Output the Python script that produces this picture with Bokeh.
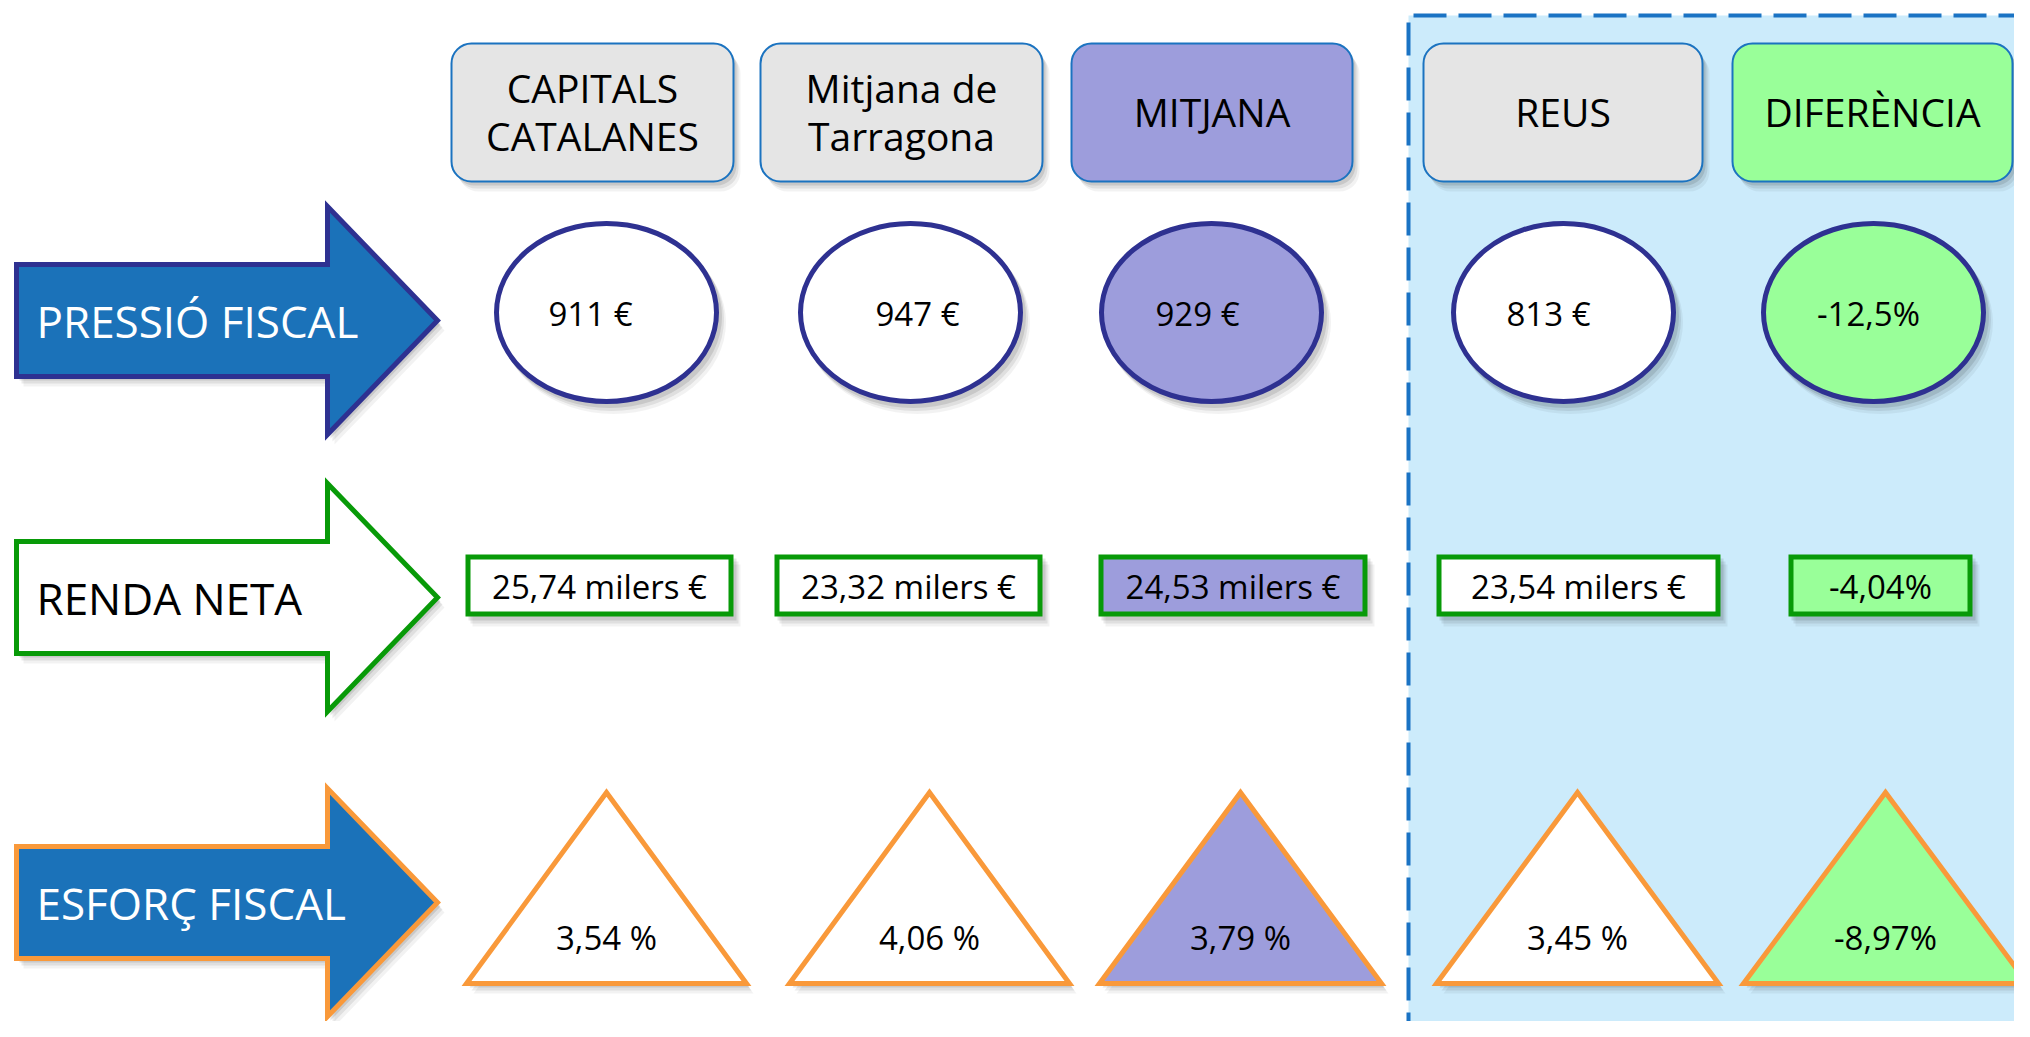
from bokeh.plotting import figure
from bokeh.models import Range1d
from bokeh.core.properties import value
from bokeh.embed import file_html
from bokeh.resources import INLINE

# ---------------- data ----------------
categories = ["CAPITALS\nCATALANES", "Mitjana de\nTarragona", "MITJANA", "REUS", "DIFERÈNCIA"]
row_labels = ["PRESSIÓ FISCAL", "RENDA NETA", "ESFORÇ FISCAL"]
pressio_fiscal = [911, 947, 929, 813]          # € per habitant
renda_neta = [25.74, 23.32, 24.53, 23.54]      # milers €
esforc_fiscal = [3.54, 4.06, 3.79, 3.45]       # %
diferencia = [-12.5, -4.04, -8.97]             # % (pressió, renda, esforç)


def comma(v, fmt):
    return format(v, fmt).replace(".", ",")


pressio_txt = [f"{v} €" for v in pressio_fiscal] + [str(diferencia[0]).replace(".", ",") + "%"]
renda_txt = [comma(v, ".2f") + " milers €" for v in renda_neta] + [str(diferencia[1]).replace(".", ",") + "%"]
esforc_txt = [comma(v, ".2f") + " %" for v in esforc_fiscal] + [str(diferencia[2]).replace(".", ",") + "%"]

# ---------------- styles / layout ----------------
FONT = value("Open Sans")
BLUE = "#1B72B9"
NAVY = "#2E3191"
GREEN = "#089A08"
ORANGE = "#F9993A"
LAV = "#9D9DDC"
LGREEN = "#99FF99"
GRAY = "#E5E5E5"
HDR_LINE = "#1B73C0"
REGION = "#CCEBFB"
fills = [GRAY, GRAY, LAV, GRAY, LGREEN]
shape_fills = ["white", "white", LAV, "white", LGREEN]

hdr_left = [451, 760, 1071, 1423, 1732]
hdr_right = [733, 1042, 1352, 1702, 2012]
ell_x = [606, 910, 1211, 1563, 1873]
ell_txt_x = [590, 917, 1197, 1548, 1868]
rect_left = [465, 774, 1098, 1436, 1788]
rect_right = [733, 1042, 1367, 1720, 1972]
tri_x = [606, 929, 1240, 1577, 1885]
tri_half = [140, 140, 141, 141, 142]
arrow_cy = [320, 597, 902]
arrow_fill = [BLUE, "white", BLUE]
arrow_line = [NAVY, GREEN, ORANGE]
arrow_txt = ["white", "black", "white"]

W, H = 2014, 1021
p = figure(width=W, height=H, x_range=Range1d(0, W), y_range=Range1d(-H, 0),
           output_backend="svg", toolbar_location=None, min_border=0,
           x_axis_location=None, y_axis_location=None)
p.grid.visible = False
p.outline_line_color = None
p.background_fill_color = "white"
p.border_fill_color = "white"


def Y(v):
    if isinstance(v, (list, tuple)):
        return [-a for a in v]
    return -v


# highlighted region
p.quad(left=1408, right=2040, top=Y(15), bottom=Y(1045), fill_color=REGION, line_color=None)
p.line(x=[1408, 1408, 2040], y=[Y(1045), Y(15), Y(15)], line_color="#1A73C4", line_width=4,
       line_dash="33 12")

SH = [(3, 4, 0.10), (5, 7, 0.08), (7, 10, 0.05)]

# header boxes
for dx, dy, a in SH:
    p.quad(left=[l + dx for l in hdr_left], right=[r + dx for r in hdr_right],
           top=[Y(43 + dy)] * 5, bottom=[Y(181 + dy)] * 5, fill_color="black", fill_alpha=a,
           line_color=None, border_radius=20)
p.quad(left=hdr_left, right=hdr_right, top=[Y(43)] * 5, bottom=[Y(181)] * 5, fill_color=fills,
       line_color=HDR_LINE, line_width=2, border_radius=20)
hdr_cx = [(l + r) / 2 for l, r in zip(hdr_left, hdr_right)]
p.text(x=hdr_cx, y=[Y(111)] * 5, text=categories, text_align="center", text_baseline="middle",
       text_font=FONT, text_font_size="39px", text_color="black", text_line_height=0.9)

# arrows
for i, cy in enumerate(arrow_cy):
    xs = [16, 327, 327, 437, 327, 327, 16]
    ys = [cy - 56, cy - 56, cy - 114, cy, cy + 114, cy + 56, cy + 56]
    for dx, dy, a in SH:
        p.patch(x=[v + dx for v in xs], y=[Y(v + dy) for v in ys], fill_color="black", fill_alpha=a,
                line_color=None)
    p.patch(x=xs, y=Y(ys), fill_color=arrow_fill[i], line_color=arrow_line[i], line_width=5,
            line_join="miter")
p.text(x=[36] * 3, y=Y(arrow_cy), text=row_labels, text_align="left", text_baseline="middle",
       text_font=FONT, text_font_size="44px", text_color=arrow_txt)

# row 1: ellipses
for dx, dy, a in SH:
    p.ellipse(x=[v + dx for v in ell_x], y=[Y(312 + dy)] * 5, width=225, height=183,
              fill_color="black", fill_alpha=a, line_color=None)
p.ellipse(x=ell_x, y=[Y(312)] * 5, width=220, height=178, fill_color=shape_fills,
          line_color=NAVY, line_width=5)
p.text(x=ell_txt_x, y=[Y(313)] * 5, text=pressio_txt, text_align="center", text_baseline="middle",
       text_font=FONT, text_font_size="33px", text_color="black")

# row 2: rectangles
for dx, dy, a in SH:
    p.quad(left=[l + dx for l in rect_left], right=[r + dx for r in rect_right],
           top=[Y(554 + dy)] * 5, bottom=[Y(616 + dy)] * 5, fill_color="black", fill_alpha=a,
           line_color=None)
p.quad(left=[l + 2.5 for l in rect_left], right=[r - 2.5 for r in rect_right],
       top=[Y(556.5)] * 5, bottom=[Y(613.5)] * 5, fill_color=shape_fills,
       line_color=GREEN, line_width=5, line_join="miter")
rect_cx = [(l + r) / 2 for l, r in zip(rect_left, rect_right)]
p.text(x=rect_cx, y=[Y(586)] * 5, text=renda_txt, text_align="center", text_baseline="middle",
       text_font=FONT, text_font_size="33px", text_color="black")

# row 3: triangles
txs = [[cx, cx - h, cx + h] for cx, h in zip(tri_x, tri_half)]
tys = [[Y(792), Y(983), Y(983)] for _ in tri_x]
for dx, dy, a in SH:
    p.patches(xs=[[v + dx for v in t] for t in txs], ys=[[v - dy for v in t] for t in tys],
              fill_color="black", fill_alpha=a, line_color=None)
p.patches(xs=txs, ys=tys, fill_color=shape_fills, line_color=ORANGE, line_width=5,
          line_join="miter")
p.text(x=tri_x, y=[Y(937)] * 5, text=esforc_txt, text_align="center", text_baseline="middle",
       text_font=FONT, text_font_size="33px", text_color="black")

open("out.html", "w").write(file_html(p, INLINE))
